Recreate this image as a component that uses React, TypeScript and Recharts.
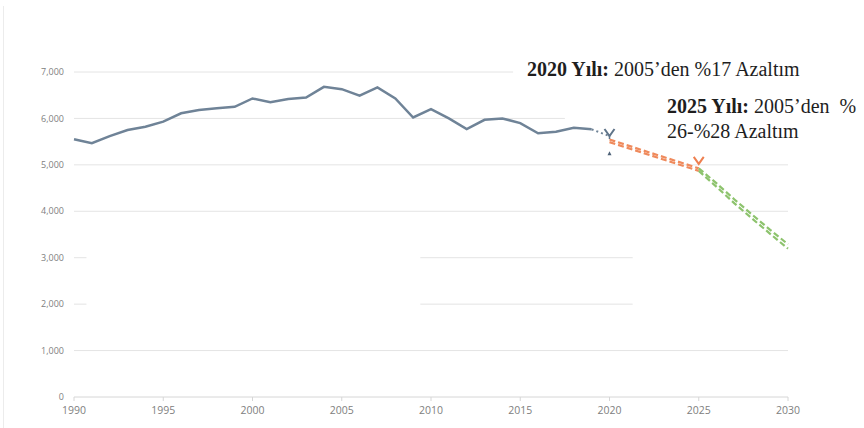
import React from 'react';
import { LineChart, Line, XAxis, YAxis, ReferenceLine, ReferenceDot } from 'recharts';

// historical emissions (solid), then the dotted 2019-2020 bridge
const histYears = [
  1990, 1991, 1992, 1993, 1994, 1995, 1996, 1997, 1998, 1999,
  2000, 2001, 2002, 2003, 2004, 2005, 2006, 2007, 2008, 2009,
  2010, 2011, 2012, 2013, 2014, 2015, 2016, 2017, 2018, 2019,
];
const histValues = [
  5550, 5465, 5620, 5750, 5820, 5930, 6110, 6180, 6220, 6250,
  6430, 6350, 6420, 6450, 6680, 6630, 6490, 6670, 6430, 6020,
  6200, 6000, 5770, 5970, 6000, 5900, 5680, 5715, 5800, 5765,
];
const bridgeYears = [2019, 2020];
const bridgeValues = [5765, 5620];

// 2020 -> 2025 target band (orange)
const target2025Years = [2020, 2025];
const target2025High = [5545, 4925];
const target2025Low = [5490, 4870];

// 2025 -> 2030 target band (green)
const target2030Years = [2025, 2026, 2027, 2028, 2029, 2030];
const target2030High = [4925, 4600, 4255, 3925, 3600, 3290];
const target2030Low = [4870, 4525, 4170, 3840, 3515, 3195];

const xTicks = [1990, 1995, 2000, 2005, 2010, 2015, 2020, 2025, 2030];
const yTicks = [0, 1000, 2000, 3000, 4000, 5000, 6000, 7000];

// visible pieces of the horizontal gridlines (partly covered in the original)
const gridSegments = [
  { value: 7000, from: 1990, to: 2014.6 },
  { value: 6000, from: 1990, to: 2017.5 },
  { value: 5000, from: 1990, to: 2030 },
  { value: 4000, from: 1990, to: 2030 },
  { value: 3000, from: 1990, to: 1990.7 },
  { value: 3000, from: 2009.4, to: 2021.3 },
  { value: 2000, from: 1990, to: 1990.7 },
  { value: 2000, from: 2009.4, to: 2021.3 },
  { value: 1000, from: 1990, to: 2030 },
];

const markers = [
  { year: 2020, value: 5686, kind: 'y', color: '#5f7489' },
  { year: 2020, value: 5250, kind: 'dot', color: '#4d6177' },
  { year: 2025, value: 5085, kind: 'v', color: '#ee7f4f' },
];

function buildRows() {
  const rows = new Map<number, any>();
  const put = (years: number[], values: number[], key: string) => {
    years.forEach((y, i) => {
      const r = rows.get(y) ?? { year: y };
      r[key] = values[i];
      rows.set(y, r);
    });
  };
  put(histYears, histValues, 'hist');
  put(bridgeYears, bridgeValues, 'bridge');
  put(target2025Years, target2025High, 'orangeHi');
  put(target2025Years, target2025Low, 'orangeLo');
  put(target2030Years, target2030High, 'greenHi');
  put(target2030Years, target2030Low, 'greenLo');
  return [...rows.values()].sort((a, b) => a.year - b.year);
}

const data = buildRows();

function Marker(props: any) {
  const { cx, cy, kind, color } = props;
  if (cx == null || cy == null) return null;
  if (kind === 'dot') {
    return <path d={`M${cx - 2},${cy + 2} L${cx},${cy - 2} L${cx + 2},${cy + 2} Z`} fill={color} />;
  }
  return (
    <g>
      <path d={`M${cx - 5},${cy - 4} L${cx},${cy + 3} L${cx + 5},${cy - 4}`} fill="none" stroke={color} strokeWidth={2} />
      {kind === 'y' && <line x1={cx} y1={cy + 3} x2={cx} y2={cy + 6} stroke={color} strokeWidth={1.5} />}
    </g>
  );
}

const noteStyle: React.CSSProperties = {
  position: 'absolute',
  fontFamily: '"Liberation Serif", "Times New Roman", serif',
  fontSize: 20,
  lineHeight: '25px',
  color: '#1e1e1e',
  whiteSpace: 'nowrap',
};

export default function App() {
  const tickStyle = { fontSize: 9, fill: '#808080', fontFamily: '"Open Sans", sans-serif' };
  return (
    <div style={{ position: 'absolute', left: 0, top: 0, width: 864, height: 428, background: '#fff' }}>
      <div style={{ position: 'absolute', left: 3, top: 6, width: 1, height: 422, background: '#ececec' }} />
      <LineChart width={864} height={428} data={data} margin={{ top: 72, right: 76, bottom: 6, left: 10 }}>
        <XAxis
          dataKey="year"
          type="number"
          domain={[1990, 2030]}
          ticks={xTicks}
          axisLine={{ stroke: '#d6d6d6' }}
          tickLine={{ stroke: '#d6d6d6' }}
          tickSize={4}
          tickMargin={6}
          height={25}
          tick={{ ...tickStyle, fontSize: 10.5 }}
        />
        <YAxis
          type="number"
          domain={[0, 7000]}
          ticks={yTicks}
          width={64}
          axisLine={false}
          tickLine={false}
          tickSize={0}
          tickMargin={10}
          tick={tickStyle}
          tickFormatter={(v: number) => v.toLocaleString('en-US')}
        />
        {gridSegments.map((g, i) => (
          <ReferenceLine
            key={i}
            segment={[{ x: g.from, y: g.value }, { x: g.to, y: g.value }]}
            stroke="#e4e4e4"
            strokeWidth={1}
          />
        ))}
        <Line dataKey="hist" stroke="#6f8397" strokeWidth={2.5} dot={false} isAnimationActive={false} />
        <Line dataKey="bridge" stroke="#6f8397" strokeWidth={2} strokeDasharray="2 3" dot={false} isAnimationActive={false} />
        <Line dataKey="orangeHi" stroke="#ef8a5c" strokeWidth={2.2} strokeDasharray="6 3" dot={false} isAnimationActive={false} />
        <Line dataKey="orangeLo" stroke="#ef8a5c" strokeWidth={2.2} strokeDasharray="6 3" dot={false} isAnimationActive={false} />
        <Line dataKey="greenHi" stroke="#8dc36d" strokeWidth={2.2} strokeDasharray="6 3" dot={false} isAnimationActive={false} />
        <Line dataKey="greenLo" stroke="#8dc36d" strokeWidth={2.2} strokeDasharray="6 3" dot={false} isAnimationActive={false} />
        {markers.map((m, i) => (
          <ReferenceDot
            key={`m${i}`}
            x={m.year}
            y={m.value}
            r={3}
            shape={(p: any) => <Marker {...p} kind={m.kind} color={m.color} />}
          />
        ))}
      </LineChart>
      <div style={{ ...noteStyle, left: 527, top: 56.5 }}>
        <b>2020 Yılı:</b> 2005’den %17 Azaltım
      </div>
      <div style={{ ...noteStyle, left: 667, top: 94 }}>
        <b>2025 Yılı:</b> 2005’den &nbsp;%
        <br />
        26-%28 Azaltım
      </div>
    </div>
  );
}
